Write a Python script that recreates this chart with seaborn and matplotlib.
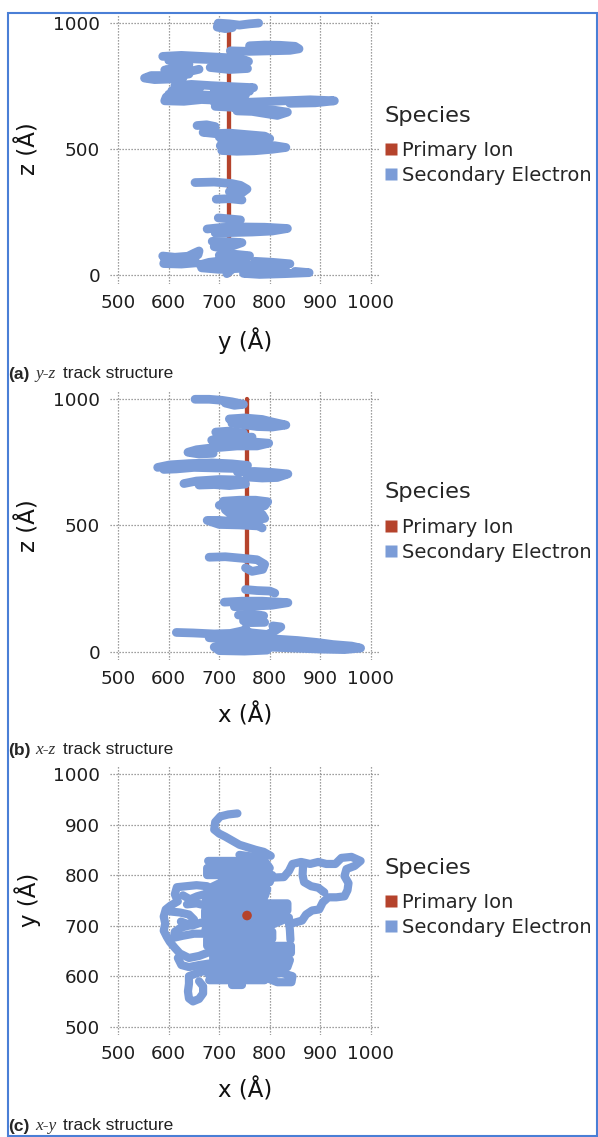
import matplotlib
matplotlib.use("Agg")
import matplotlib.pyplot as plt
from matplotlib.lines import Line2D
from matplotlib.patches import Rectangle
import pandas as pd
import seaborn as sns

# ---------------- data ----------------
species = ["Primary Ion", "Secondary Electron"]
x_ticks = [500, 600, 700, 800, 900, 1000]
z_ticks = [0, 500, 1000]
y_ticks = [500, 600, 700, 800, 900, 1000]

# primary ion track
ion_y = 720
ion_x = 755
ion_z = [0, 1000]

# ---- (a) y-z projection: electron track waypoints (y, z) ----
yz_t01 = [(778, 998), (760, 995), (740, 990), (720, 995), (698, 998), (696, 982), (712, 976), (726, 980)]
yz_t02 = [(722, 888), (760, 886), (800, 888), (840, 890), (858, 896), (850, 906), (820, 910), (790, 911), (760, 908)]
yz_t03 = [(588, 866), (625, 870), (665, 866), (705, 862), (742, 858), (758, 846), (748, 832), (720, 826), (690, 830), (688, 840)]
yz_t04 = [(600, 850), (622, 845), (640, 834), (630, 822), (610, 818), (592, 812), (615, 806), (645, 808), (660, 815)]
yz_t05 = [(640, 796), (615, 792), (590, 790), (565, 790), (552, 780), (572, 774), (600, 776), (628, 780)]
yz_t06 = [(612, 750), (645, 755), (685, 750), (725, 746), (768, 742), (745, 732), (700, 738)]
yz_t07 = [(606, 730), (640, 728), (655, 720), (630, 712), (595, 705), (592, 690), (630, 688), (665, 695), (700, 692)]
yz_t08 = [(690, 730), (720, 725), (760, 728)]
yz_t09 = [(690, 684), (730, 682), (780, 686), (830, 690), (880, 694), (928, 690), (890, 682), (840, 680)]
yz_t10 = [(692, 668), (730, 664), (770, 660), (805, 654), (835, 645), (815, 632), (790, 640), (765, 648), (735, 650)]
yz_t11 = [(656, 592), (675, 595), (692, 588), (688, 572), (668, 565), (692, 560), (720, 562), (755, 556), (790, 550), (800, 540), (770, 532), (735, 530), (705, 528)]
yz_t12 = [(702, 512), (730, 515), (770, 512), (810, 512), (832, 505), (805, 498), (770, 492), (735, 490), (705, 493)]
yz_t13 = [(652, 366), (690, 368), (725, 362), (742, 355), (755, 340), (745, 325), (720, 330), (738, 338)]
yz_t14 = [(694, 300), (720, 302), (745, 297)]
yz_t15 = [(698, 226), (720, 222), (742, 218)]
yz_t16 = [(676, 182), (705, 188), (745, 190), (790, 189), (835, 184), (805, 174), (765, 170), (725, 168), (692, 166)]
yz_t17 = [(686, 133), (715, 132), (745, 128), (725, 114), (700, 108), (690, 112)]
yz_t18 = [(588, 75), (612, 70), (638, 74), (650, 86), (660, 95), (658, 80), (640, 64), (615, 58), (592, 55), (590, 45), (625, 43), (655, 48)]
yz_t19 = [(700, 78), (730, 82), (760, 76), (745, 62), (715, 58), (680, 50), (662, 40), (700, 36), (745, 40), (790, 38), (830, 30), (800, 20), (765, 14), (748, 6), (780, 2), (830, 5), (878, 9), (850, 14)]
yz_t20 = [(600, 858), (650, 856), (700, 852), (735, 848)]
yz_t21 = [(682, 822), (720, 814), (756, 818)]
yz_t22 = [(600, 716), (640, 716), (680, 712), (720, 710), (752, 713)]
yz_t23 = [(622, 740), (662, 742)]
yz_t24 = [(700, 546), (742, 542)]
yz_t25 = [(715, 5), (725, 22), (712, 42), (726, 62), (716, 86)]
yz_t26 = [(665, 28), (700, 22), (740, 26), (790, 26), (832, 18)]
yz_t27 = [(770, 54), (805, 50), (840, 44)]

# ---- (b) x-z projection: electron track waypoints (x, z) ----
xz_t01 = [(652, 1000), (680, 1000), (705, 996), (725, 990), (748, 980), (730, 976), (712, 985)]
xz_t02 = [(720, 922), (750, 926), (785, 920), (805, 910), (832, 898), (805, 890), (775, 892), (745, 900), (725, 905)]
xz_t03 = [(693, 870), (720, 874), (748, 866), (735, 852), (705, 848), (685, 838), (715, 830), (760, 832), (798, 826), (775, 815), (735, 815), (705, 810), (680, 806), (655, 800), (638, 790), (660, 783), (688, 786)]
xz_t04 = [(578, 730), (602, 740), (640, 745), (685, 748), (725, 744), (756, 738), (730, 726), (690, 728), (650, 730), (615, 724), (590, 722)]
xz_t05 = [(736, 712), (770, 714), (805, 710), (836, 704), (815, 690), (785, 688), (755, 692)]
xz_t06 = [(630, 666), (655, 676), (700, 682), (740, 680), (752, 664), (720, 658), (690, 662), (660, 660)]
xz_t07 = [(708, 596), (740, 600), (772, 600), (796, 594), (790, 578), (760, 572), (730, 570), (712, 562), (722, 546), (752, 548), (785, 544), (790, 528), (760, 520), (728, 515), (700, 520), (676, 520), (700, 504), (740, 502), (778, 498), (785, 490)]
xz_t08 = [(680, 374), (712, 376), (745, 370), (775, 364), (790, 346), (786, 326), (765, 318), (752, 332)]
xz_t09 = [(752, 246), (775, 242), (800, 240), (810, 232)]
xz_t10 = [(710, 196), (745, 200), (785, 200), (836, 194), (805, 184), (765, 180), (730, 178)]
xz_t11 = [(738, 145), (762, 150), (788, 142), (772, 128), (748, 122), (762, 115), (790, 116)]
xz_t12 = [(615, 76), (648, 74), (690, 70), (722, 72), (745, 82), (765, 74), (795, 68), (810, 82), (822, 98), (806, 102)]
xz_t13 = [(680, 55), (720, 50), (765, 54), (810, 50), (855, 44), (895, 36), (925, 28), (962, 22), (980, 14), (948, 8), (900, 10), (850, 14), (800, 18), (760, 22), (720, 24), (690, 18), (700, 4), (750, 2), (795, 6)]
xz_t14 = [(750, 5), (760, 25), (748, 45), (760, 66), (752, 92)]
xz_t15 = [(700, 846), (740, 848), (765, 850)]
xz_t16 = [(700, 580), (730, 585)]

# ---- (c) x-y projection: electron track waypoints (x, y) ----
xy_t01 = [(736, 922), (718, 920), (702, 916), (692, 905), (690, 890), (700, 882), (712, 876), (726, 868), (740, 860), (756, 855), (772, 850), (788, 846), (802, 838)]
xy_t02 = [(678, 828), (790, 828), (800, 814), (676, 814), (676, 800), (805, 800), (800, 786), (705, 786), (676, 772), (795, 772), (790, 758), (676, 758), (672, 744), (835, 744), (835, 730), (672, 730), (672, 716), (838, 716), (805, 702), (675, 702), (672, 688), (805, 688), (805, 674), (676, 674), (676, 660), (842, 660), (842, 646), (688, 646), (688, 632), (840, 632), (835, 618), (688, 618), (678, 604), (800, 604), (790, 592), (680, 592)]
xy_t03 = [(838, 712), (840, 690), (841, 672)]
xy_t04 = [(800, 604), (825, 606), (845, 600), (843, 588), (815, 588), (800, 594)]
xy_t05 = [(725, 582), (745, 582)]
xy_t06 = [(805, 795), (828, 796), (838, 808), (845, 822), (862, 826), (880, 822), (896, 826), (912, 822), (930, 822), (942, 834), (962, 836), (980, 828), (968, 818), (952, 812), (948, 798), (956, 784), (954, 770), (948, 758), (932, 756), (916, 756), (905, 746), (898, 732), (884, 730), (872, 722), (864, 710), (850, 706), (838, 704)]
xy_t07 = [(866, 818), (865, 800), (868, 786), (882, 778), (896, 775), (908, 766)]
xy_t08 = [(676, 778), (655, 780), (635, 778), (616, 776), (612, 762), (618, 748), (604, 740), (594, 732), (590, 718), (593, 704), (590, 690), (596, 678), (602, 668), (612, 656), (622, 645), (640, 636), (660, 640), (676, 646), (690, 650)]
xy_t09 = [(603, 728), (622, 726), (640, 722), (650, 712), (640, 700), (624, 696), (612, 688), (610, 676), (628, 680), (650, 684), (672, 684)]
xy_t10 = [(636, 742), (655, 744), (672, 740)]
xy_t11 = [(676, 612), (656, 606), (640, 600), (640, 585), (638, 570), (640, 556), (648, 550), (660, 555), (668, 566), (668, 580), (660, 590)]
xy_t12 = [(618, 636), (625, 622), (640, 618), (660, 622), (680, 625)]
xy_t13 = [(628, 760), (642, 752), (656, 758), (670, 762)]
xy_t14 = [(624, 708), (646, 700), (664, 706)]
xy_t15 = [(740, 840), (770, 836), (790, 838)]

yz_tracks = [yz_t01, yz_t02, yz_t03, yz_t04, yz_t05, yz_t06, yz_t07, yz_t08, yz_t09, yz_t10,
             yz_t11, yz_t12, yz_t13, yz_t14, yz_t15, yz_t16, yz_t17, yz_t18, yz_t19, yz_t20,
             yz_t21, yz_t22, yz_t23, yz_t24, yz_t25, yz_t26, yz_t27]
xz_tracks = [xz_t01, xz_t02, xz_t03, xz_t04, xz_t05, xz_t06, xz_t07, xz_t08, xz_t09, xz_t10,
             xz_t11, xz_t12, xz_t13, xz_t14, xz_t15, xz_t16]
xy_tracks = [xy_t01, xy_t02, xy_t03, xy_t04, xy_t05, xy_t06, xy_t07, xy_t08, xy_t09, xy_t10,
             xy_t11, xy_t12, xy_t13, xy_t14, xy_t15]

# ---------------- style ----------------
sns.set_style("white")
plt.rcParams['font.family'] = ['DejaVu Sans']

RED = "#b5432c"
BLUE = "#7b9cd7"
GRID = "#808080"
W, H = 598, 1137


def tracks_frame(tracks):
    rows = []
    for i, tr in enumerate(tracks):
        for h, v in tr:
            rows.append((i, h, v))
    return pd.DataFrame(rows, columns=["track", "h", "v"])


fig = plt.figure(figsize=(W / 100, H / 100), dpi=100)

# axes boxes in pixels: (left, top, width, height)
boxes = [(110, 14.0, 270, 269.5), (110, 390.7, 270, 269.5), (110, 765.0, 270, 270.0)]
panels = [
    dict(tracks=yz_tracks, xlabel="y (Å)", ylabel="z (Å)", yticks=z_ticks, ylim=(-34, 1034), lw=6.3,
         ion=("line", ion_y), cap=("(a)", "y-z", "track structure"), cap_base=378.5, leg_top=106.0),
    dict(tracks=xz_tracks, xlabel="x (Å)", ylabel="z (Å)", yticks=z_ticks, ylim=(-34, 1034), lw=6.3,
         ion=("line", ion_x), cap=("(b)", "x-z", "track structure"), cap_base=754.5, leg_top=482.5),
    dict(tracks=xy_tracks, xlabel="x (Å)", ylabel="y (Å)", yticks=y_ticks, ylim=(483.6, 1017.8), lw=5.9,
         ion=("point", (ion_x, ion_y)), cap=("(c)", "x-y", "track structure"), cap_base=1130.5, leg_top=857.5),
]

for (l, t, w, h), p in zip(boxes, panels):
    ax = fig.add_axes([l / W, 1 - (t + h) / H, w / W, h / H])
    kind, val = p["ion"]
    if kind == "line":
        ion_df = pd.DataFrame({"h": [val, val], "v": ion_z})
        sns.lineplot(data=ion_df, x="h", y="v", estimator=None, sort=False,
                     color=RED, linewidth=3.1, ax=ax, zorder=2)
    df = tracks_frame(p["tracks"])
    sns.lineplot(data=df, x="h", y="v", units="track", estimator=None, sort=False,
                 color=BLUE, linewidth=p["lw"], ax=ax, zorder=3, legend=False)
    for ln in ax.lines:
        ln.set_solid_capstyle("round")
        ln.set_solid_joinstyle("round")
    if kind == "point":
        pt = pd.DataFrame({"h": [val[0]], "v": [val[1]]})
        sns.scatterplot(data=pt, x="h", y="v", color=RED, s=48, edgecolor="none",
                        ax=ax, zorder=5, legend=False)

    ax.set_xlim(483.6, 1018.4)
    ax.set_ylim(*p["ylim"])
    ax.set_xticks(x_ticks)
    ax.set_yticks(p["yticks"])
    ax.grid(True, color=GRID, linestyle=(0, (1, 1.4)), linewidth=0.9)
    ax.set_axisbelow(True)
    for s in ax.spines.values():
        s.set_visible(False)
    ax.tick_params(axis="both", length=0, labelsize=13.2, labelcolor="#1e1e1e")
    ax.tick_params(axis="y", pad=7.2)
    ax.tick_params(axis="x", pad=7.4)
    ax.set_xlabel(p["xlabel"], fontsize=16.5, color="#111111")
    ax.set_ylabel(p["ylabel"], fontsize=16.5, color="#111111")
    ax.xaxis.set_label_coords(0.5, -(43.5 / h))
    ax.yaxis.set_label_coords(-(69.0 / w), 0.5)

    handles = [Line2D([], [], linestyle="none", marker="s", markersize=8.4,
                      markerfacecolor=c, markeredgecolor="none") for c in (RED, BLUE)]
    leg = fig.legend(handles, species, title="Species", loc="upper left",
                     bbox_to_anchor=(385 / W, 1 - p["leg_top"] / H), frameon=False,
                     borderpad=0, borderaxespad=0, handlelength=0.62, handletextpad=0.25,
                     labelspacing=0.30, fontsize=14, title_fontsize=16.2, alignment="left")
    leg._legend_box.sep = 11.0

    c1, c2, c3 = p["cap"]
    yb = 1 - p["cap_base"] / H
    fig.text(8.5 / W, yb, c1, family="Liberation Sans", weight="bold", fontsize=12.5, va="baseline")
    fig.text(35 / W, yb, c2, family="Liberation Serif", style="italic", fontsize=12.5,
             va="baseline", color="#333333")
    fig.text(63.0 / W, yb, c3, family="Liberation Sans", fontsize=12.5, va="baseline", color="#222222")

fig.patches.append(Rectangle((8 / W, 1 - 1136 / H), (597 - 8) / W, (1136 - 13) / H,
                             transform=fig.transFigure, fill=False, edgecolor="#4a7fd6",
                             linewidth=1.5, zorder=10))

fig.savefig("out.png", dpi=100)
